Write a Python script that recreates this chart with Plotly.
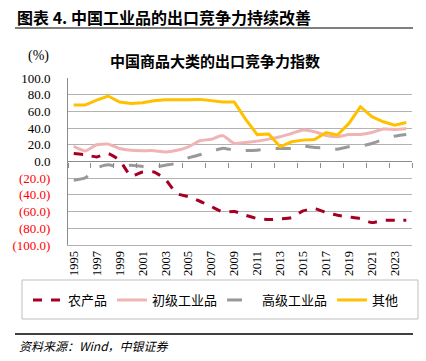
import plotly.graph_objects as go

years = list(range(1995, 2025))
agri = [9.5, 8, 5.5, 9.5, 1.5, -17.5, -12.5, -12.5, -21.5, -38.5,
        -42, -47.6, -54, -60.5, -59.8, -64.4, -68.4, -69.6, -68.8, -67.2,
        -59.2, -56.4, -61.2, -64.4, -66.4, -68.4, -73.2, -70.4, -70.4, -70.4]
primary = [18, 12.6, 20, 20.8, 15.5, 13.4, 13, 13, 11.4, 13.4,
           17.6, 24.8, 26.6, 31, 21.6, 22.8, 24.4, 26.8, 29.6, 33.6,
           37.6, 35.6, 31.2, 29.6, 32.4, 32.4, 34.8, 38.8, 38.4, 39.2]
advanced = [-22.4, -19.6, -7.6, -4, -6.8, -4.4, -6, -6.8, -4.4, -2,
            4.4, 8, 12, 16, 13.6, 13.2, 13.6, 15.2, 15.6, 15.6,
            18.4, 16.8, 16.4, 14.8, 17.6, 18.4, 21.6, 26.4, 30.4, 32.4]
other = [67.6, 67.6, 73.5, 78.4, 71.2, 69.6, 70.4, 72.8, 74, 73.6,
         74, 74.4, 72.8, 71.2, 71.2, 50.4, 32.2, 32.8, 17.6, 23.6,
         25.6, 26.4, 34.6, 31.8, 45.6, 65.6, 53.6, 47.6, 43.6, 46.8]
series_names = ["农产品", "初级工业品", "高级工业品", "其他"]
ytick_vals = [100, 80, 60, 40, 20, 0, -20, -40, -60, -80, -100]
xtick_years = list(range(1995, 2024, 2))

W, H = 426, 361
L, R, T, B = 68, 14, 78, 116
PW, PH = W - L - R, H - T - B

def fx(px):
    return (px - L) / PW

def fy(py):
    return (H - B - py) / PH

def ylab(v):
    if v < 0:
        return '<span style="color:#ff0000">(%.1f)</span>' % (-v)
    return "%.1f" % v

fig = go.Figure()
fig.add_trace(go.Scatter(x=years, y=agri, name=series_names[0], mode="lines",
                         line=dict(color="#A50021", width=3, dash="dash", shape="spline", smoothing=0.5)))
fig.add_trace(go.Scatter(x=years, y=primary, name=series_names[1], mode="lines",
                         line=dict(color="#F0B4B4", width=3, shape="spline", smoothing=0.5)))
fig.add_trace(go.Scatter(x=years, y=advanced, name=series_names[2], mode="lines",
                         line=dict(color="#999999", width=3, dash="longdash", shape="spline", smoothing=0.5)))
fig.add_trace(go.Scatter(x=years, y=other, name=series_names[3], mode="lines",
                         line=dict(color="#FFC000", width=3)))
# invisible trace to carry the tick-mark axis at zero
fig.add_trace(go.Scatter(x=years, y=[None] * len(years), xaxis="x2", showlegend=False,
                         hoverinfo="skip", mode="lines"))

serif = "Liberation Serif"
cjk = "Noto Sans CJK SC"

fig.update_layout(
    width=W, height=H,
    margin=dict(l=L, r=R, t=T, b=B),
    paper_bgcolor="white", plot_bgcolor="white",
    showlegend=True,
    legend=dict(orientation="h", x=fx(28), xanchor="left", y=fy(300), yanchor="middle",
                font=dict(family=cjk, size=13, color="#000000"), bgcolor="rgba(0,0,0,0)",
                itemwidth=30, tracegroupgap=0),
    xaxis=dict(range=[1994.5, 2024.5], tickvals=xtick_years, ticktext=[str(y) for y in xtick_years],
               tickangle=-90, ticks="", showgrid=False, zeroline=False,
               showline=True, linecolor="#b3b3b3", linewidth=1,
               tickfont=dict(family=serif, size=12.5, color="#000000")),
    xaxis2=dict(range=[1994.5, 2024.5], overlaying="x", anchor="free", position=0.5,
                tickvals=[1994.5 + 2 * k for k in range(16)], ticks="outside", ticklen=5,
                tickcolor="#8c8c8c", showticklabels=False, showgrid=False, zeroline=False,
                showline=False),
    yaxis=dict(range=[-100, 100], tickvals=ytick_vals, ticktext=[ylab(v) for v in ytick_vals],
               showgrid=True, gridcolor="#b3b3b3", gridwidth=1,
               zeroline=True, zerolinecolor="#8c8c8c", zerolinewidth=1,
               showline=True, linecolor="#8c8c8c", linewidth=1,
               ticks="", ticklabelstandoff=14,
               tickfont=dict(family=serif, size=13, color="#000000")),
)

annotations = [
    dict(text="<b>图表 4. 中国工业品的出口竞争力持续改善</b>", x=fx(15), y=fy(17), xanchor="left",
         yanchor="middle", font=dict(family=cjk, size=16, color="#000000")),
    dict(text="(%)", x=fx(38), y=fy(56), xanchor="center", yanchor="middle",
         font=dict(family=serif, size=14, color="#000000")),
    dict(text="<b>中国商品大类的出口竞争力指数</b>", x=fx(215), y=fy(60), xanchor="center",
         yanchor="middle", font=dict(family=cjk, size=15, color="#000000")),
    dict(text="<i>资料来源：Wind，中银证券</i>", x=fx(17), y=fy(345), xanchor="left",
         yanchor="middle", font=dict(family=cjk, size=12, color="#000000")),
]
for a in annotations:
    a.update(xref="paper", yref="paper", showarrow=False)
fig.update_layout(annotations=annotations)

shapes = [
    dict(type="line", x0=fx(15), x1=fx(413), y0=fy(28), y1=fy(28), line=dict(color="#7f7f7f", width=2)),
    dict(type="line", x0=fx(15), x1=fx(413), y0=fy(334), y1=fy(334), line=dict(color="#000000", width=1.5)),
    dict(type="rect", x0=fx(22), x1=fx(418), y0=fy(280), y1=fy(319), line=dict(color="#bfbfbf", width=1)),
]
for s in shapes:
    s.update(xref="paper", yref="paper")
fig.update_layout(shapes=shapes)

fig.write_html("out.html", config={"displayModeBar": False},
               post_script="document.body.style.margin='0';document.body.style.overflow='hidden';")
